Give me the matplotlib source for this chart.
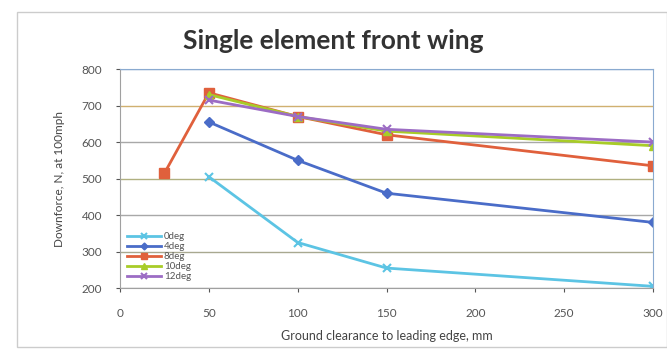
"""Single element front wing downforce vs ground clearance."""
import matplotlib.pyplot as plt

plt.rcParams['font.family'] = ['Lato', 'DejaVu Sans']

clearance_8 = [25, 50, 100, 150, 300]
clearance = [50, 100, 150, 300]

deg0 = [505, 325, 255, 205]
deg4 = [655, 550, 460, 380]
deg8 = [515, 735, 670, 620, 535]
deg10 = [730, 670, 630, 590]
deg12 = [715, 670, 635, 600]

x_ticks = [0, 50, 100, 150, 200, 250, 300]
y_ticks = [200, 300, 400, 500, 600, 700, 800]
grid_colors = ['#9a9a9a', '#a8a890', '#a8a8a8', '#b0b080', '#a8a8a8', '#d0b070', '#7f9fc8']

fig = plt.figure(figsize=(6.67, 3.54), dpi=100)
fig.patches.append(plt.Rectangle((0.025, 0.02), 0.975, 0.945, transform=fig.transFigure,
                                 fill=False, edgecolor='#cccccc', linewidth=1.0))
ax = fig.add_axes([0.18, 0.186, 0.799, 0.619])

for yv, gc in zip(y_ticks, grid_colors):
    ax.axhline(yv, color=gc, linewidth=1.0, zorder=0)

ax.plot(clearance, deg0, '-x', color='#5cc4e4', linewidth=2, markersize=6, mew=1.5, label='0deg')
ax.plot(clearance, deg4, '-D', color='#4a6cc8', linewidth=2, markersize=5, label='4deg')
ax.plot(clearance_8, deg8, '-s', color='#e0603c', linewidth=2, markersize=7, label='8deg')
ax.plot(clearance, deg10, '-^', color='#a8cc28', linewidth=2, markersize=6, label='10deg')
ax.plot(clearance, deg12, '-x', color='#9c6cc4', linewidth=2, markersize=6, mew=1.5, label='12deg')

ax.set_xlim(0, 300)
ax.set_ylim(200, 800)
ax.set_xticks(x_ticks)
ax.set_yticks(y_ticks)
ax.tick_params(labelsize=8.5, colors='#555555', length=3)
ax.tick_params(axis='y', pad=10)
ax.tick_params(axis='x', pad=11)
for s in ax.spines.values():
    s.set_color('#8aaad0')
ax.spines['bottom'].set_color('#a0a0a0')
ax.spines['left'].set_color('#a0a0a0')

ax.set_xlabel('Ground clearance to leading edge, mm', fontsize=9, color='#444444', labelpad=8)
ax.set_ylabel('Downforce, N, at 100mph', fontsize=8.5, color='#444444', labelpad=12)
fig.suptitle('Single element front wing', fontsize=19, fontweight='bold', color='#333333',
             y=0.885, va='center')

ax.legend(loc='lower left', fontsize=7, frameon=False, handlelength=3.5, markerscale=0.7,
          labelspacing=0.1, borderaxespad=0.3, handletextpad=0.3, labelcolor='#555555')

plt.savefig('out.png', dpi=100)
